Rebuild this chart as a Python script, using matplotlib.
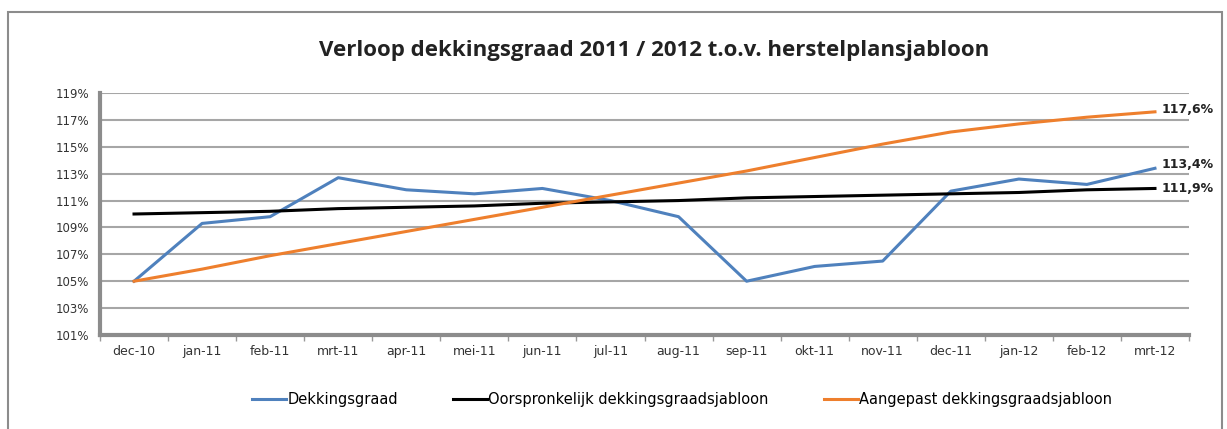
import matplotlib.pyplot as plt
from matplotlib.patches import Rectangle

months = ['dec-10', 'jan-11', 'feb-11', 'mrt-11', 'apr-11', 'mei-11', 'jun-11', 'jul-11',
          'aug-11', 'sep-11', 'okt-11', 'nov-11', 'dec-11', 'jan-12', 'feb-12', 'mrt-12']
dekkingsgraad = [105.0, 109.3, 109.8, 112.7, 111.8, 111.5, 111.9, 111.0,
                 109.8, 105.0, 106.1, 106.5, 111.7, 112.6, 112.2, 113.4]
oorspronkelijk = [110.0, 110.1, 110.2, 110.4, 110.5, 110.6, 110.8, 110.9,
                  111.0, 111.2, 111.3, 111.4, 111.5, 111.6, 111.8, 111.9]
aangepast = [105.0, 105.9, 106.9, 107.8, 108.7, 109.6, 110.5, 111.4,
             112.3, 113.2, 114.2, 115.2, 116.1, 116.7, 117.2, 117.6]
yticks = [101, 103, 105, 107, 109, 111, 113, 115, 117, 119]
end_labels = ['113,4%', '111,9%', '117,6%']
end_offsets = [3, 0, 2]

plt.rcParams['font.family'] = ['DejaVu Sans']

fig = plt.figure(figsize=(12.27, 4.29), dpi=100)
# chart border
fig.patches.append(Rectangle((8 / 1227, -0.05), 1214 / 1227, 1.05 - 12 / 429,
                             transform=fig.transFigure, fill=False,
                             edgecolor='#8c8c8c', linewidth=1.5))

ax = fig.add_axes([100 / 1227, 94 / 429, 1089 / 1227, 242 / 429])
x = range(len(months))
ax.plot(x, dekkingsgraad, color='#4F81BD', linewidth=2.2, label='Dekkingsgraad')
ax.plot(x, oorspronkelijk, color='black', linewidth=2.2, label='Oorspronkelijk dekkingsgraadsjabloon')
ax.plot(x, aangepast, color='#EE7F2D', linewidth=2.2, label='Aangepast dekkingsgraadsjabloon')

ax.set_xlim(-0.5, len(months) - 0.5)
ax.set_ylim(101, 119)
ax.set_yticks(yticks)
ax.set_yticklabels([f'{t}%' for t in yticks], fontsize=8.5, color='#333333')
ax.set_xticks(list(x))
ax.set_xticklabels(months, fontsize=9, color='#333333')
ax.set_xticks([i + 0.5 for i in range(-1, len(months))], minor=True)
ax.tick_params(axis='x', which='major', length=0, pad=7)
ax.tick_params(axis='x', which='minor', length=4, color='#999999', width=1)
ax.tick_params(axis='y', length=0, pad=8)
ax.grid(axis='y', color='#a6a6a6', linewidth=1.5)
ax.set_axisbelow(True)
for side in ['top', 'right']:
    ax.spines[side].set_visible(False)
for side in ['left', 'bottom']:
    ax.spines[side].set_color('#8c8c8c')
    ax.spines[side].set_linewidth(3)

# labels at line ends
for series, lab, dy in zip([dekkingsgraad, oorspronkelijk, aangepast], end_labels, end_offsets):
    ax.annotate(lab, (len(months) - 1, series[-1]), xytext=(5, dy),
                textcoords='offset points', fontsize=9, fontweight='bold',
                color='#222222', va='center', annotation_clip=False)

fig.text(0.533, 0.883, 'Verloop dekkingsgraad 2011 / 2012 t.o.v. herstelplansjabloon',
         ha='center', va='center', fontsize=16, fontweight='bold',
         family=['Open Sans', 'DejaVu Sans'], color='#222222')

fig.legend(loc='center', bbox_to_anchor=(0.556, 0.068), ncol=3, frameon=False,
           fontsize=10.5, handlelength=2.3, handletextpad=0.1, columnspacing=3.8)

fig.savefig('out.png', dpi=100)
